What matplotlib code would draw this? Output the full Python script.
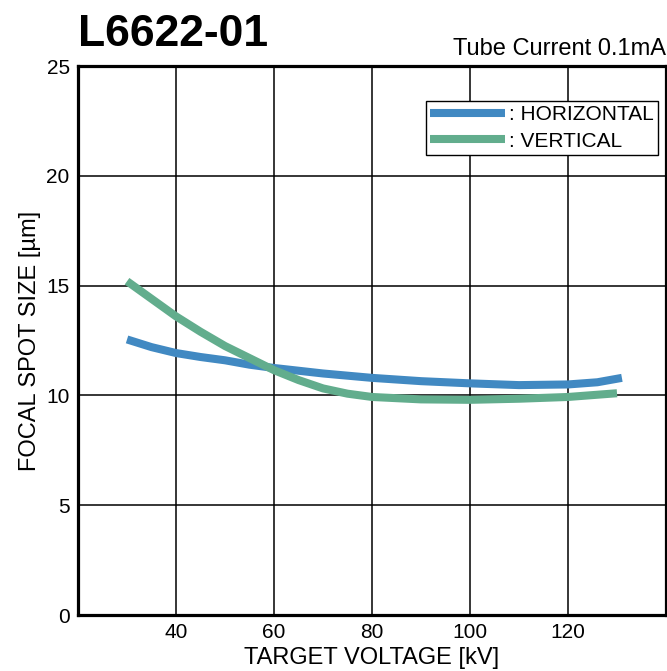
import matplotlib
matplotlib.use("Agg")
import matplotlib.pyplot as plt

plt.rcParams["font.family"] = ["Liberation Sans", "DejaVu Sans"]

# data
h_kv = [30, 35, 40, 45, 50, 55, 60, 70, 80, 90, 100, 110, 120, 126, 131]
h_size = [12.55, 12.2, 11.93, 11.75, 11.6, 11.4, 11.25, 11.0, 10.8, 10.65, 10.55, 10.47, 10.5, 10.6, 10.8]
v_kv = [30, 35, 40, 45, 50, 55, 60, 65, 70, 75, 80, 90, 100, 110, 120, 130]
v_size = [15.2, 14.4, 13.6, 12.9, 12.25, 11.7, 11.15, 10.7, 10.32, 10.08, 9.93, 9.82, 9.8, 9.85, 9.93, 10.1]

xticks = [40, 60, 80, 100, 120]
yticks = [0, 5, 10, 15, 20, 25]

fig = plt.figure(figsize=(6.67, 6.71), dpi=100)
ax = fig.add_axes([0.117, 0.0834, 0.8815, 0.8182])

ax.plot(h_kv, h_size, color="#4189c2", lw=5.8, label=": HORIZONTAL", solid_capstyle="butt", zorder=3)
ax.plot(v_kv, v_size, color="#62ad8d", lw=5.8, label=": VERTICAL", solid_capstyle="butt", zorder=3)

ax.set_xlim(20, 140)
ax.set_ylim(0, 25)
ax.set_xticks(xticks)
ax.set_yticks(yticks)
ax.tick_params(length=0, labelsize=15, pad=6)
ax.grid(True, color="black", lw=1.1)
for s in ax.spines.values():
    s.set_linewidth(2.3)

ax.set_xlabel("TARGET VOLTAGE [kV]", fontsize=17, labelpad=3)
ax.set_ylabel("FOCAL SPOT SIZE [µm]", fontsize=17, labelpad=4)

leg = ax.legend(loc="upper right", bbox_to_anchor=(0.986, 0.936), borderaxespad=0, fontsize=15,
                handlelength=3.6, handletextpad=0.2, borderpad=0.2, labelspacing=0.35,
                fancybox=False, framealpha=1, edgecolor="black")
leg.get_frame().set_linewidth(1.0)

fig.text(0.117, 0.932, "L6622-01", fontsize=32, fontweight="heavy")
fig.text(0.999, 0.918, "Tube Current 0.1mA", fontsize=17, ha="right")

fig.savefig("out.png", dpi=100)
